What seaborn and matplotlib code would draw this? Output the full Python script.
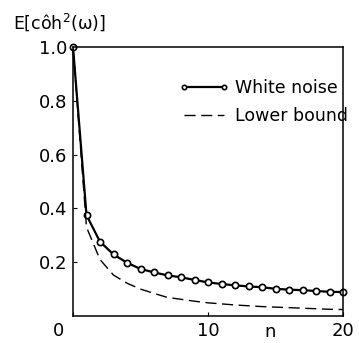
import numpy as np
import matplotlib
matplotlib.use('Agg')
import matplotlib.pyplot as plt
import matplotlib.transforms as mtransforms
import seaborn as sns

n = list(range(0, 21))
white_noise = [1.0, 0.375, 0.276, 0.229, 0.198, 0.175, 0.162, 0.151, 0.144, 0.134, 0.125,
               0.119, 0.114, 0.110, 0.107, 0.101, 0.098, 0.096, 0.093, 0.090, 0.089]
lower_bound = [1.0, 0.33, 0.21, 0.152, 0.122, 0.10, 0.084, 0.069, 0.062, 0.055, 0.049,
               0.045, 0.041, 0.038, 0.035, 0.033, 0.031, 0.029, 0.027, 0.025, 0.024]
xticks = [0, 10, 20]
yticks = [0.2, 0.4, 0.6, 0.8, 1.0]
series_names = ['White noise', 'Lower bound']
ylabel = 'E[côh$^2$(ω)]'

sns.set_style('ticks')
plt.rcParams['font.family'] = ['DejaVu Sans']
plt.rcParams.update({'text.color': 'black', 'xtick.color': 'black',
                     'ytick.color': 'black', 'axes.labelcolor': 'black'})

W, H = 359, 343
fig = plt.figure(figsize=(W/100, H/100), dpi=100)
ax = fig.add_axes([73/W, 1-316/H, (343-73)/W, (316-47)/H])

sns.lineplot(x=n, y=white_noise, ax=ax, color='black', lw=1.6, marker='o',
             markersize=4.5, markerfacecolor='white', markeredgecolor='black',
             markeredgewidth=1.2, label=series_names[0], clip_on=False)
sns.lineplot(x=n, y=lower_bound, ax=ax, color='black', lw=1.0,
             linestyle=(0, (8, 4)), label=series_names[1])

ax.set_xlim(0, 20)
ax.set_ylim(0, 1.0)
ax.set_xticks(xticks)
ax.set_xticklabels([str(t) for t in xticks])
ax.set_yticks(yticks)
ax.set_yticklabels([f'{t:.1f}' for t in yticks])
ax.tick_params(direction='in', length=3, width=0.8, labelsize=13)
ax.tick_params(axis='y', pad=4)
ax.tick_params(axis='x', pad=4)
for s in ax.spines.values():
    s.set_linewidth(1.1)
    s.set_color('black')
ax.set_xlabel('')
ax.set_ylabel('')

# the "0" label sits left of the axis in the original
lab0 = ax.get_xticklabels()[0]
lab0.set_transform(lab0.get_transform() + mtransforms.ScaledTranslation(-15/100, 0, fig.dpi_scale_trans))

ax.annotate('n', xy=(14.6, 0), xycoords=('data', 'axes fraction'), xytext=(0, -5),
            textcoords='offset points', ha='center', va='top', fontsize=13)

fig.text(13/W, 1-29/H, ylabel, fontsize=12.5, va='baseline', ha='left')

leg = ax.legend(loc='center left', bbox_to_anchor=(179/W, 1-102/H),
                bbox_transform=fig.transFigure, frameon=False, fontsize=12.5,
                handlelength=2.9, handletextpad=0.3, labelspacing=0.6,
                borderpad=0, borderaxespad=0, numpoints=2, markerscale=0.7)

fig.savefig('out.png', dpi=100)
